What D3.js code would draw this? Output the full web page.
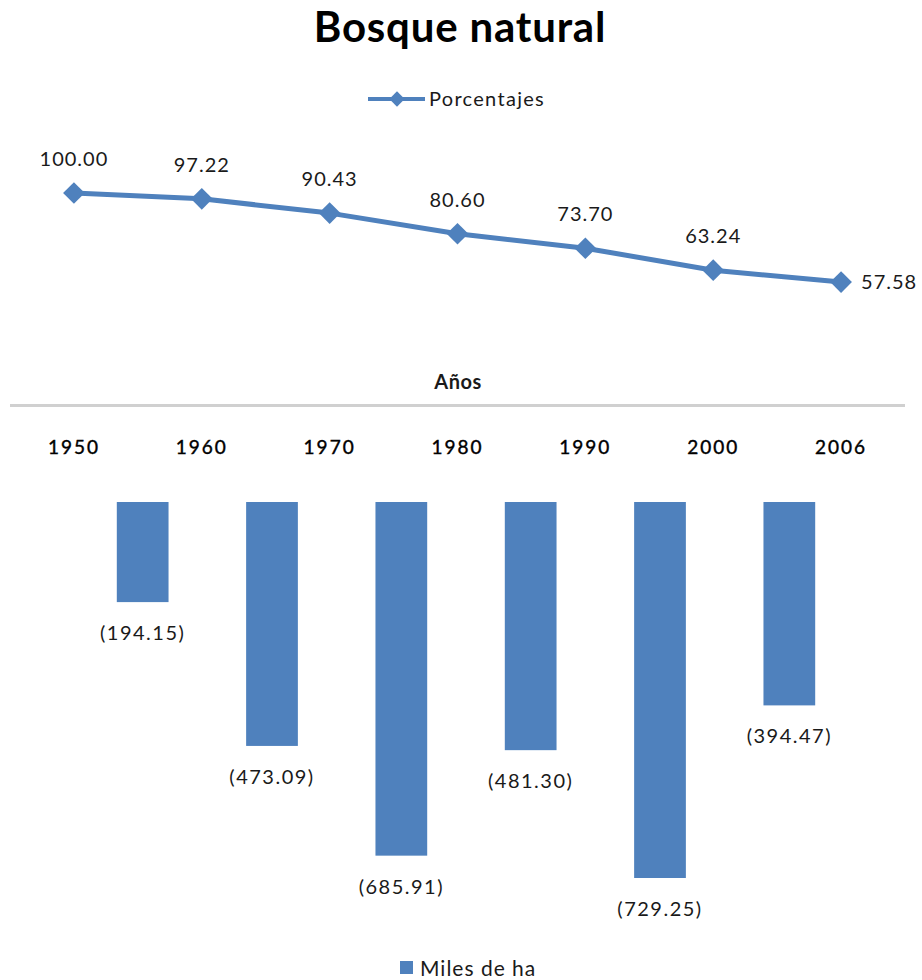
<!DOCTYPE html>
<html>
<head>
<meta charset="utf-8">
<script src="https://cdn.jsdelivr.net/npm/d3@7"></script>
<style>
  html, body { margin: 0; padding: 0; background: #fff; }
  text { font-family: Lato, "Open Sans", sans-serif; fill: #1a1a1a; }
</style>
</head>
<body>
<svg id="chart" width="922" height="980"></svg>
<script>
const years = ["1950", "1960", "1970", "1980", "1990", "2000", "2006"];
const porcentajes = [100.00, 97.22, 90.43, 80.60, 73.70, 63.24, 57.58];
const periods = ["1950-1960", "1960-1970", "1970-1980", "1980-1990", "1990-2000", "2000-2006"];
const milesHa = [-194.15, -473.09, -685.91, -481.30, -729.25, -394.47];

const blue = "#4f81bd";
const svg = d3.select("#chart");
svg.append("rect").attr("width", 922).attr("height", 980).attr("fill", "#fff");

// Title
svg.append("text").attr("x", 460).attr("y", 42).attr("text-anchor", "middle")
  .style("font-size", "42px").style("font-weight", "bold").style("fill", "#000")
  .style("letter-spacing", "0.8px")
  .text("Bosque natural");

// Legend (line)
const lg = svg.append("g");
lg.append("line").attr("x1", 368).attr("x2", 425).attr("y1", 99).attr("y2", 99)
  .attr("stroke", blue).attr("stroke-width", 4);
lg.append("path").attr("d", d3.symbol(d3.symbolDiamond2, 150)())
  .attr("transform", "translate(397,99)").attr("fill", blue);
lg.append("text").attr("x", 429).attr("y", 106).style("font-size", "20px")
  .style("letter-spacing", "1.3px").text("Porcentajes");

// Scales - line part
const x = d3.scaleBand().domain(years).range([10, 905]);
const xc = d => x(d) + x.bandwidth() / 2;
const y = d3.scaleLinear().domain([0, 100]).range([403, 193]);

const line = d3.line().x((d, i) => xc(years[i])).y(d => y(d));
svg.append("path").datum(porcentajes).attr("d", line)
  .attr("fill", "none").attr("stroke", blue).attr("stroke-width", 5)
  .attr("stroke-linejoin", "round");

svg.selectAll(".pt").data(porcentajes).enter().append("path")
  .attr("d", d3.symbol(d3.symbolDiamond2, 300)())
  .attr("transform", (d, i) => `translate(${xc(years[i])},${y(d)})`)
  .attr("fill", blue);

const fmt = d3.format(".2f");
svg.selectAll(".lbl").data(porcentajes).enter().append("text")
  .attr("x", (d, i) => i === porcentajes.length - 1 ? xc(years[i]) + 20 : xc(years[i]))
  .attr("y", (d, i) => i === porcentajes.length - 1 ? y(d) + 7 : y(d) - 27)
  .attr("text-anchor", (d, i) => i === porcentajes.length - 1 ? "start" : "middle")
  .style("font-size", "20px").style("letter-spacing", "1px")
  .text(d => fmt(d));

// Axis title
svg.append("text").attr("x", 458).attr("y", 389).attr("text-anchor", "middle")
  .style("font-size", "20px").style("font-weight", "bold").style("letter-spacing", "0.5px")
  .text("Años");

// Axis line
svg.append("line").attr("x1", 10).attr("x2", 905).attr("y1", 405.5).attr("y2", 405.5)
  .attr("stroke", "#d0d0d0").attr("stroke-width", 3);

// Year labels
svg.selectAll(".yr").data(years).enter().append("text")
  .attr("x", d => xc(d)).attr("y", 454).attr("text-anchor", "middle")
  .style("font-size", "19px").style("fill", "#000").style("letter-spacing", "2px")
  .style("stroke", "#000").style("stroke-width", "0.4px")
  .text(d => d);

// Bars
const xb = d3.scaleBand().domain(periods).range([78, 854]).paddingInner(0.6).paddingOuter(0.3);
const yb = d3.scaleLinear().domain([0, -750]).range([502, 502 + 750 * 0.5156]);

svg.selectAll(".bar").data(milesHa).enter().append("rect")
  .attr("x", (d, i) => xb(periods[i])).attr("width", xb.bandwidth())
  .attr("y", yb(0)).attr("height", d => yb(d) - yb(0))
  .attr("fill", blue);

svg.selectAll(".blbl").data(milesHa).enter().append("text")
  .attr("x", (d, i) => xb(periods[i]) + xb.bandwidth() / 2)
  .attr("y", d => yb(d) + 38).attr("text-anchor", "middle")
  .style("font-size", "20px").style("letter-spacing", "1.5px")
  .text(d => "(" + fmt(Math.abs(d)) + ")");

// Legend (bars)
svg.append("rect").attr("x", 400).attr("y", 961).attr("width", 13).attr("height", 13).attr("fill", blue);
svg.append("text").attr("x", 420).attr("y", 976).style("font-size", "21px")
  .style("letter-spacing", "1px").text("Miles de ha");
</script>
</body>
</html>
